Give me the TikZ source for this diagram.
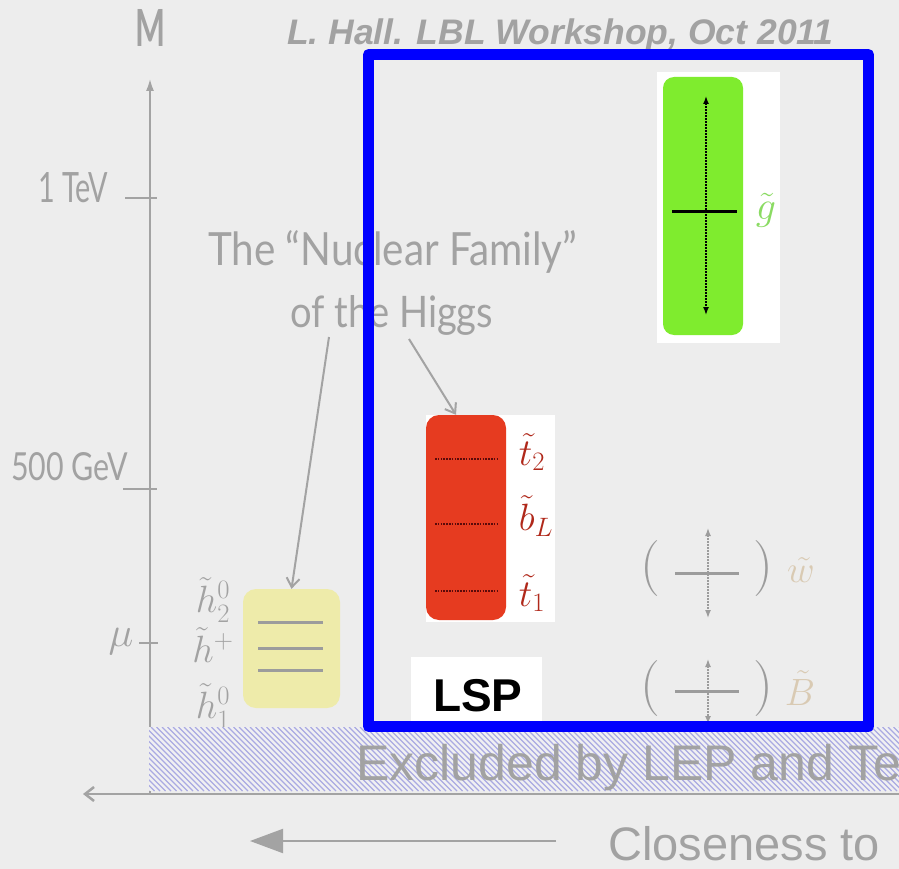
\RequirePackage{fix-cm}
\documentclass[tikz,border=0pt]{standalone}
\usepackage{fontspec}
\usepackage{graphicx}
\usetikzlibrary{arrows.meta}
\newfontfamily\gillfont{Lato}
\newfontfamily\arialfont{Liberation Sans}
\definecolor{bg}{HTML}{EDEDED}
\definecolor{hatchbg}{HTML}{F0F0F2}
\definecolor{txtgray}{HTML}{A2A2A2}
\definecolor{axgray}{HTML}{A3A3A3}
\definecolor{frameblue}{HTML}{0000FF}
\definecolor{glgreen}{HTML}{7FEC2E}
\definecolor{glabel}{HTML}{8ADB62}
\definecolor{stred}{HTML}{E63B20}
\definecolor{stlabel}{HTML}{B0281A}
\definecolor{hyellow}{HTML}{EEEBAA}
\definecolor{ewlabel}{HTML}{D9CAB3}
\definecolor{hatchcol}{HTML}{AAAAE2}
\definecolor{crossgray}{HTML}{9C9C9C}
\tikzset{
  gilltext/.style={inner sep=0pt, anchor=base west, text=txtgray, font=\gillfont},
  arialtext/.style={inner sep=0pt, anchor=base west, text=txtgray},
  mathlabel/.style={inner sep=0pt, font=\fontsize{38}{40}\selectfont},
  axisline/.style={draw=axgray, line width=2.5pt},
  tickline/.style={draw=axgray, line width=2.5pt},
  txtarrow/.style={draw=axgray, line width=2pt, -{Straight Barb[length=9pt,width=13pt,line width=2pt]}},
  dotarrow/.style={line width=1.4pt, dash pattern=on 1.5pt off 1.5pt, {Latex[length=8pt,width=6pt]}-{Latex[length=8pt,width=6pt]}},
  levelline/.style={draw=crossgray, line width=3pt},
  paren/.style={inner sep=0pt, text=crossgray, font=\fontsize{56}{56}\selectfont},
}
\begin{document}
\begin{tikzpicture}[x=1pt,y=-1pt]
\useasboundingbox (0,0) rectangle (899,869);
\begin{scope}
\clip (0,0) rectangle (899,869);
\fill[bg] (0,0) rectangle (899,869);

% title
\node[arialtext, font=\arialfont\fontsize{35.5}{40}\selectfont\bfseries\itshape] (hall) at (287,45) {L. Hall. LBL Workshop, Oct 2011};

% vertical axis
\coordinate (origin) at (150,794);
\coordinate (ytip) at (150,78);
\draw[axisline, -{Latex[length=13pt,width=8pt]}] (origin) -- (ytip);
\node[gilltext] (Mlab) at (135,47) {\resizebox{30pt}{37pt}{\bfseries M}};

% ticks
\coordinate (tevL) at (125,198); \coordinate (tevR) at (157,198);
\draw[tickline] (tevL) -- (tevR);
\node[gilltext] (tev) at (38,203) {\resizebox{70pt}{30pt}{1 TeV}};
\coordinate (gevL) at (123,489); \coordinate (gevR) at (157,489);
\draw[tickline] (gevL) -- (gevR);
\node[gilltext] (gev) at (11,480) {\resizebox{117pt}{28pt}{500 GeV}};
\coordinate (muL) at (139,643); \coordinate (muR) at (158,643);
\draw[tickline] (muL) -- (muR);
\node[mathlabel, text=txtgray, font=\fontsize{42}{42}\selectfont] (mu) at (121,642) {$\mu$};

% nuclear family text
\node[gilltext] (nf1) at (208,265) {\resizebox{369pt}{35pt}{The “Nuclear Family”}};
\node[gilltext] (nf2) at (290,327) {\resizebox{203pt}{32pt}{of the Higgs}};

% higgsino labels and box
\node[mathlabel, text=txtgray] (h2) at (213,600) {$\tilde{h}^0_2$};
\node[mathlabel, text=txtgray] (hp) at (213,645) {$\tilde{h}^+$};
\node[mathlabel, text=txtgray] (h1) at (213,706) {$\tilde{h}^0_1$};
\node[fill=hyellow, rounded corners=13pt, minimum width=97pt, minimum height=119pt, inner sep=0pt] (yel) at (291.5,648.5) {};
\coordinate (y1L) at (258,622); \coordinate (y1R) at (323,622);
\coordinate (y2L) at (258,648); \coordinate (y2R) at (323,648);
\coordinate (y3L) at (258,670); \coordinate (y3R) at (323,670);
\draw[levelline] (y1L) -- (y1R);
\draw[levelline] (y2L) -- (y2R);
\draw[levelline] (y3L) -- (y3R);

% arrows from text
\coordinate (nfa) at (329,337);
\coordinate (nfb) at (409,339);
\draw[txtarrow] (nfa) -- (yel.north);

% stop/sbottom picture
\fill[white] (426,415) rectangle (555,622);
\node[fill=stred, rounded corners=13pt, minimum width=80pt, minimum height=205pt, inner sep=0pt] (stop) at (466,517.5) {};
\draw[txtarrow] (nfb) -- ([xshift=-10pt]stop.north);
\foreach \yy/\nm in {459/a,524/b,591/c}{
  \coordinate (sd\nm L) at (435,\yy);
  \coordinate (sd\nm R) at (498,\yy);
  \draw[draw={rgb,255:red,90;green,10;blue,10}, line width=2.2pt, dash pattern=on 1.6pt off 1.2pt] (sd\nm L) -- (sd\nm R);
}
\node[mathlabel, text=stlabel] (t2) at (532,452) {$\tilde{t}_2$};
\node[mathlabel, text=stlabel] (bL) at (536,516) {$\tilde{b}_L$};
\node[mathlabel, text=stlabel] (t1) at (532,593) {$\tilde{t}_1$};

% gluino picture
\fill[white] (657,72) rectangle (780,343);
\node[fill=glgreen, rounded corners=11pt, minimum width=80pt, minimum height=258pt, inner sep=0pt] (glu) at (703,206) {};
\coordinate (gtop) at (706,96); \coordinate (gbot) at (706,315);
\draw[dotarrow, draw=black] (gtop) -- (gbot);
\coordinate (gL) at (672,211); \coordinate (gR) at (737,211);
\draw[black, line width=3pt] (gL) -- (gR);
\node[mathlabel, text=glabel, font=\fontsize{40}{40}\selectfont] (glab) at (766,210) {$\tilde{g}$};

% wino
\node[paren] (wpl) at (650,569) {(};
\node[paren] (wpr) at (763,569) {)};
\coordinate (wL) at (675,573); \coordinate (wR) at (739,573);
\draw[levelline] (wL) -- (wR);
\coordinate (wtop) at (708,528); \coordinate (wbot) at (708,618);
\draw[dotarrow, draw=crossgray, {Latex[length=8pt,width=6pt,fill=crossgray]}-{Latex[length=8pt,width=6pt,fill=crossgray]}] (wtop) -- (wbot);
\node[mathlabel, text=ewlabel] (wlab) at (801,570) {$\tilde{w}$};

% bino
\node[paren] (bpl) at (650,689) {(};
\node[paren] (bpr) at (763,689) {)};
\coordinate (bnL) at (675,691); \coordinate (bnR) at (739,691);
\draw[levelline] (bnL) -- (bnR);
\coordinate (btop) at (708,659); \coordinate (bbot) at (708,724);
\draw[dotarrow, draw=crossgray] (btop) -- (bbot);
\node[mathlabel, text=ewlabel] (Blab) at (800,688) {$\tilde{B}$};

% LSP
\node[fill=white, minimum width=131pt, minimum height=68pt, inner sep=0pt] (lspbox) at (476.5,691) {};
\node[inner sep=0pt, anchor=base west, font=\arialfont\fontsize{46}{50}\selectfont\bfseries] (lsp) at (433,711) {LSP};

% hatched excluded region
\begin{scope}
\clip (149,727) rectangle (899,791);
\fill[hatchbg] (149,727) rectangle (899,791);
\foreach \i in {0,...,150}{
  \draw[hatchcol, line width=1.1pt] ({85+5.5*\i},727) -- ({149+5.5*\i},791);
}
\end{scope}
\node[arialtext, font=\arialfont\fontsize{50}{54}\selectfont] (excl) at (356,780) {Excluded by LEP and Te};

% blue frame
\draw[frameblue, line width=11pt, line join=round] (368.5,54.5) rectangle (868.5,726.5);

% horizontal axis
\coordinate (xstart) at (899,794);
\coordinate (xtip) at (83,794);
\draw[axisline, -{Straight Barb[length=9pt,width=14pt,line width=2.5pt]}] (xstart) -- (xtip);

% closeness arrow
\coordinate (cstart) at (556,841);
\coordinate (ctip) at (250,841);
\draw[draw=axgray, line width=2pt, -{Triangle[length=33pt,width=24pt]}] (cstart) -- (ctip);
\node[arialtext, font=\arialfont\fontsize{47}{50}\selectfont] (close) at (608,860) {Closeness to};
\end{scope}
\end{tikzpicture}
\end{document}
